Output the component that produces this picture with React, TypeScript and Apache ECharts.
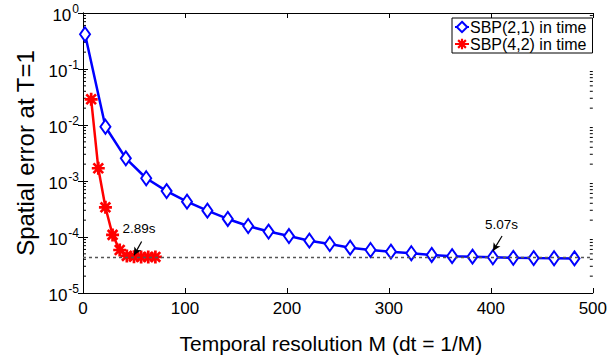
import React, { useEffect, useRef } from "react";
import * as echarts from "echarts";

const sbp21M = [2, 22, 42, 62, 82, 102, 122, 142, 162, 182, 202, 222, 242, 262, 282, 302, 322, 342, 362, 382, 402, 422, 442, 462, 482];
const sbp21Err = [0.417, 9.3e-3, 2.54e-3, 1.12e-3, 6.6e-4, 4.27e-4, 2.95e-4, 2.1e-4, 1.57e-4, 1.25e-4, 1.04e-4, 8.6e-5, 7.5e-5, 6.45e-5, 5.86e-5, 5.47e-5, 5.13e-5, 4.78e-5, 4.55e-5, 4.45e-5, 4.35e-5, 4.25e-5, 4.2e-5, 4.18e-5, 4.15e-5];
const sbp42M = [8, 15, 22, 29, 36, 43, 50, 57, 64, 71];
const sbp42Err = [0.0288, 1.69e-3, 3.39e-4, 1.09e-4, 5.86e-5, 4.6e-5, 4.45e-5, 4.4e-5, 4.4e-5, 4.4e-5];
const referenceError = 4.34e-5;
const seriesNames = ["SBP(2,1) in time", "SBP(4,2) in time"];
const xTickValues = [0, 100, 200, 300, 400, 500];
const yDecades = [-5, -4, -3, -2, -1, 0];
const annot1 = { label: "2.89s", textM: 55, textErr: 1.39e-4, tailM: 57.5, tailErr: 8.3e-5, tipM: 50, tipErr: 4.7e-5 };
const annot2 = { label: "5.07s", textM: 410.5, textErr: 1.64e-4, tailM: 411, tailErr: 1.04e-4, tipM: 402, tipErr: 5.6e-5 };

const asterisk =
  "path://M0 9.5 H24 V14.5 H0 Z M9.5 0 H14.5 V24 H9.5 Z M4.8 1.3 L22.7 19.2 L19.2 22.7 L1.3 4.8 Z M19.2 1.3 L22.7 4.8 L4.8 22.7 L1.3 19.2 Z";

const FONT = "Liberation Sans, Arial, Helvetica, sans-serif";

export default function App() {
  const ref = useRef<HTMLDivElement>(null);
  useEffect(() => {
    if (!ref.current) return;
    const chart = echarts.init(ref.current, undefined, { renderer: "svg" });
    const minorVals: number[][] = [];
    for (const d of yDecades.slice(0, -1)) {
      for (let m = 2; m <= 9; m++) minorVals.push([0, m * Math.pow(10, d)]);
    }
    const xMin = xTickValues[0];
    const xMax = xTickValues[xTickValues.length - 1];
    const annots = [annot1, annot2];
    chart.setOption({
      animation: false,
      grid: { left: 83, right: 13, top: 13, bottom: 66 },
      xAxis: [
        {
          type: "value",
          min: xMin,
          max: xMax,
          interval: 100,
          name: "Temporal resolution M (dt = 1/M)",
          nameLocation: "middle",
          nameGap: 40,
          nameTextStyle: { fontFamily: FONT, fontSize: 21, color: "#000", padding: [0, 14, 0, 0] },
          axisLine: { lineStyle: { color: "#000", width: 1 } },
          axisTick: { inside: true, length: 5, lineStyle: { color: "#000" } },
          axisLabel: { fontFamily: FONT, fontSize: 17, color: "#000", margin: 7 },
          splitLine: { show: false },
        },
        {
          type: "value",
          position: "top",
          min: xMin,
          max: xMax,
          interval: 100,
          axisLine: { show: true, lineStyle: { color: "#000", width: 1 } },
          axisTick: { show: true, inside: true, length: 5, lineStyle: { color: "#000" } },
          axisLabel: { show: false },
          splitLine: { show: false },
        },
      ],
      yAxis: [
        {
          type: "log",
          logBase: 10,
          min: 1e-5,
          max: 1,
          name: "Spatial error at T=1",
          nameLocation: "middle",
          nameGap: 42,
          nameTextStyle: { fontFamily: FONT, fontSize: 24, color: "#000" },
          axisLine: { show: true, lineStyle: { color: "#000", width: 1 } },
          axisTick: { show: true, inside: true, length: 5, lineStyle: { color: "#000" } },
          axisLabel: {
            margin: 4,
            formatter: (v: number) => `{b|10}{s|${Math.round(Math.log10(v))}}`,
            rich: {
              b: { fontFamily: FONT, fontSize: 17, color: "#000", padding: [5, 0, 0, 0] },
              s: { fontFamily: FONT, fontSize: 12, color: "#000", padding: [0, 0, 9, 1] },
            },
          },
          splitLine: { show: false },
        },
        {
          type: "log",
          logBase: 10,
          min: 1e-5,
          max: 1,
          position: "right",
          axisLine: { show: true, lineStyle: { color: "#000", width: 1 } },
          axisTick: { show: true, inside: true, length: 5, lineStyle: { color: "#000" } },
          axisLabel: { show: false },
          splitLine: { show: false },
        },
      ],
      legend: {
        left: 452,
        top: 18,
        orient: "vertical",
        backgroundColor: "#fff",
        borderColor: "#000",
        borderWidth: 1,
        borderRadius: 0,
        padding: [1, 6, 1, 2],
        itemGap: 1,
        itemWidth: 14,
        itemHeight: 13,
        textStyle: { fontFamily: FONT, fontSize: 16, color: "#000", padding: [0, 0, 0, -4] },
        data: seriesNames,
      },
      series: [
        {
          type: "custom",
          silent: true,
          data: minorVals,
          encode: { x: 0, y: 1 },
          renderItem: (params: any, api: any) => {
            const v = api.value(1);
            const l = api.coord([xMin, v]);
            const r = api.coord([xMax, v]);
            const st = { stroke: "#000", lineWidth: 1 };
            return {
              type: "group",
              children: [
                { type: "line", shape: { x1: l[0], y1: l[1], x2: l[0] + 3, y2: l[1] }, style: st },
                { type: "line", shape: { x1: r[0], y1: r[1], x2: r[0] - 3, y2: r[1] }, style: st },
              ],
            };
          },
          z: 1,
        },
        {
          name: seriesNames[0],
          type: "line",
          data: sbp21M.map((m, i) => [m, sbp21Err[i]]),
          color: "#0000ff",
          lineStyle: { width: 2.5, color: "#0000ff" },
          symbol: "emptyDiamond",
          symbolSize: [10, 14],
          itemStyle: { color: "#0000ff", borderWidth: 2.2, borderColor: "#0000ff" },
          z: 3,
        },
        {
          name: seriesNames[1],
          type: "line",
          data: sbp42M.map((m, i) => [m, sbp42Err[i]]),
          color: "#ff0000",
          lineStyle: { width: 2.5, color: "#ff0000" },
          symbol: asterisk,
          symbolSize: 13,
          itemStyle: { color: "#ff0000" },
          z: 3,
        },
        {
          type: "line",
          data: [],
          silent: true,
          z: 4,
          markLine: {
            silent: true,
            symbol: "none",
            label: { show: false },
            lineStyle: { color: "#555", type: [3, 3], width: 1.3 },
            data: [[{ coord: [xMin, referenceError] }, { coord: [xMax, referenceError] }]],
          },
        },
        {
          type: "line",
          data: [],
          silent: true,
          z: 5,
          markLine: {
            silent: true,
            symbol: ["none", "arrow"],
            symbolSize: [6, 8],
            label: { show: false },
            lineStyle: { color: "#000", type: "solid", width: 1.2 },
            data: annots.map((a) => [
              { coord: [a.tailM, a.tailErr] },
              { coord: [a.tipM, a.tipErr] },
            ]),
          },
          markPoint: {
            silent: true,
            symbol: "circle",
            symbolSize: 0,
            label: { show: true, position: "inside", fontFamily: FONT, fontSize: 13.5, color: "#000", formatter: (p: any) => p.name },
            data: annots.map((a) => ({ name: a.label, coord: [a.textM, a.textErr] })),
          },
        },
      ],
    });
    return () => chart.dispose();
  }, []);
  return <div ref={ref} style={{ width: 610, height: 359, position: "absolute", left: 0, top: 0 }} />;
}
